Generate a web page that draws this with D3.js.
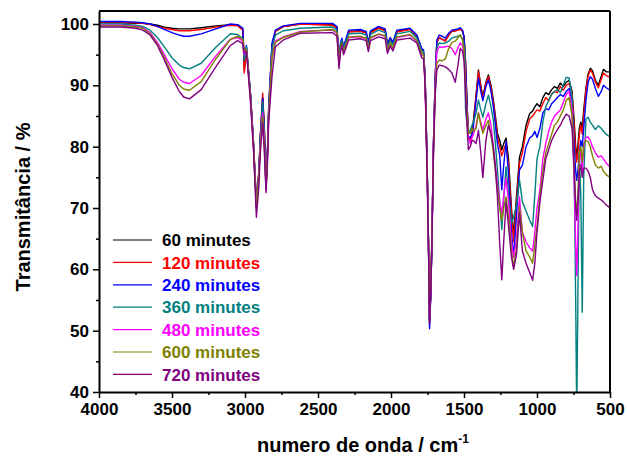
<!DOCTYPE html>
<html><head><meta charset="utf-8">
<script src="https://cdn.jsdelivr.net/npm/d3@7"></script>
<style>body{margin:0;background:#fff}svg{display:block}</style>
</head><body>
<svg id="c" width="627" height="459"></svg>
<script>
// ---------- DATA ----------
const wavenumbers = [
  4000,3850,3750,3700,3650,3600,3550,3500,3450,3420,3380,3300,3200,3100,3050,
  3015,3005,2990,2963,2942,2922,2905,2895,2879,2868,2856,2845,2838,2815,2792,2737,2620,
  2400,2370,2356,2345,2336,2325,2290,2210,2170,2155,2140,2085,2040,2024,2005,1987,1960,1870,1823,1790,
  1777,1766,1759,1750,1743,1736,1728,1720,1709,1697,1686,1670,1650,1628,1605,1583,1560,1540,1526,1510,1500,1494,1490,1482,1470,
  1457,1445,1435,1417,1401,1385,1371,1350,1333,1315,1299,1285,1271,1255,1241,1228,1212,1195,1175,1160,1140,1120,1100,1075,1050,1030,1015,
  1000,980,960,940,920,900,880,860,840,820,800,780,760,745,735,728,720,710,700,690,680,665,650,635,620,600,580,560,545,525,500
];
const s60 = [
  100.2,100.2,100.1,100.1,100.0,99.8,99.5,99.3,99.2,99.2,99.2,99.4,99.7,99.9,99.9,
  99.2,92.5,96.0,88.7,80.6,71.0,76.0,81.6,88.0,83.0,73.5,80.0,86.0,96.5,98.8,99.6,100.0,
  99.9,99.4,93.8,96.8,97.5,96.0,98.8,98.9,98.6,96.8,98.7,99.4,99.0,96.7,97.6,96.9,98.8,99.2,98.1,95.9,
  95.3,91.0,84.0,74.0,64.0,51.5,56.0,64.5,80.6,91.4,97.0,97.8,97.5,97.3,98.2,98.8,98.9,99.0,99.2,98.8,97.9,95.8,94.0,88.7,81.5,
  81.0,82.0,84.3,88.5,92.5,90.0,88.1,90.5,91.7,90.0,87.6,85.0,82.2,81.0,79.5,80.5,81.4,78.0,70.0,65.5,72.0,78.3,80.0,83.5,85.4,85.8,86.5,
  87.0,86.5,88.0,88.8,88.5,89.3,89.8,89.5,90.4,89.8,90.5,90.8,89.0,84.0,80.0,78.5,80.0,83.0,84.0,83.0,86.0,89.5,91.8,92.8,92.4,90.8,90.0,91.5,92.6,92.2,92.2
];
const s120 = [
  100.3,100.3,100.2,100.1,99.9,99.6,99.3,99.1,98.9,98.9,98.9,99.1,99.5,99.8,99.7,
  99.0,92.0,95.8,88.7,80.6,71.0,76.0,81.8,88.7,83.5,73.5,80.0,86.0,96.4,98.8,99.6,100.0,
  99.8,99.3,93.5,96.6,97.4,95.8,98.7,98.8,98.5,96.6,98.6,99.3,98.9,96.5,97.5,96.7,98.7,99.1,98.0,95.8,
  95.2,90.8,83.8,73.8,63.8,51.0,55.8,64.3,80.5,91.3,97.0,97.8,97.5,97.2,98.2,98.8,98.9,99.0,99.2,98.8,97.9,95.8,94.0,88.7,81.5,
  81.0,82.0,84.0,88.3,92.3,89.7,87.8,90.3,91.4,89.6,87.2,84.5,81.5,80.0,78.5,79.5,80.5,77.0,69.0,64.5,71.0,77.3,79.0,82.5,84.5,85.0,85.5,
  86.0,85.8,87.0,88.0,87.5,88.6,89.0,88.8,89.8,89.2,90.0,90.3,88.5,83.0,79.0,77.5,79.0,82.0,83.5,82.0,85.0,89.0,91.5,92.5,92.0,90.5,89.6,91.0,92.0,91.6,91.3
];
const s240 = [
  100.4,100.4,100.3,100.2,100.0,99.6,99.1,98.6,98.2,98.0,98.0,98.4,99.2,100.0,99.9,
  99.3,94.1,96.5,88.8,80.6,70.5,75.5,81.5,87.9,83.0,73.4,80.0,86.3,96.9,99.0,99.7,100.1,
  100.1,99.6,94.1,97.0,97.7,96.3,99.0,99.1,98.8,96.9,98.9,99.6,99.2,96.8,97.8,97.0,99.0,99.3,98.2,96.0,
  95.8,91.2,83.8,73.5,63.5,50.3,55.5,64.0,80.6,91.5,97.4,98.2,98.0,97.7,98.5,99.0,99.1,99.2,99.4,99.0,97.9,95.3,93.5,88.7,81.6,
  81.5,82.0,83.5,87.5,91.2,89.0,87.5,89.8,90.9,89.0,86.5,83.5,80.5,78.5,73.0,77.0,80.8,75.5,66.0,62.0,69.0,76.2,77.0,80.0,81.4,81.8,82.5,
  81.5,83.0,85.5,86.2,86.0,87.0,87.5,88.0,88.5,88.2,89.0,89.5,87.5,80.0,76.0,74.5,76.0,79.0,81.0,80.0,83.0,87.5,90.5,91.4,91.0,89.5,88.2,89.0,90.0,89.6,89.2
];
const s360 = [
  100.0,100.0,99.8,99.6,99.0,97.8,96.2,94.5,93.3,92.9,92.7,93.6,96.2,98.4,98.3,
  97.6,94.1,96.3,88.5,80.5,70.5,75.5,81.2,87.3,82.5,73.4,79.8,85.8,96.0,98.2,98.9,99.3,
  99.5,99.0,94.5,96.7,97.3,96.0,98.4,98.5,98.2,96.4,98.3,99.0,98.6,96.3,97.3,96.6,98.4,98.8,97.7,95.6,
  95.5,90.8,83.5,73.5,64.0,51.5,56.0,64.5,80.0,90.5,96.2,96.9,96.8,96.9,97.2,97.7,97.9,98.0,98.2,97.5,96.5,95.5,86.3,84.5,82.2,
  82.7,83.5,84.0,85.5,87.6,86.0,84.8,87.0,88.4,86.5,84.3,80.5,76.2,71.0,66.5,71.5,76.7,72.0,67.5,68.5,70.5,74.6,71.0,69.5,68.0,67.0,72.0,
  78.0,80.0,84.0,86.5,87.5,88.5,89.0,89.3,88.8,90.0,91.3,91.2,88.0,75.0,55.0,36.0,55.0,79.0,72.0,53.0,75.0,84.5,84.8,84.0,83.5,82.8,83.4,83.0,82.5,82.0,81.6
];
const s480 = [
  99.8,99.8,99.6,99.4,98.6,97.0,94.9,92.7,91.0,90.5,90.3,91.6,94.8,97.5,97.8,
  97.2,95.0,95.8,88.0,80.0,70.0,75.0,80.5,85.5,81.0,73.0,79.0,85.0,94.5,97.2,97.9,98.8,
  99.0,98.5,93.5,96.0,96.8,95.3,97.8,97.9,97.6,95.9,97.7,98.3,98.0,95.7,96.8,96.0,97.8,98.2,97.2,95.0,
  94.8,90.3,83.0,73.0,64.0,52.0,56.5,64.8,80.0,90.0,95.5,96.3,96.2,96.3,96.4,96.0,95.0,96.2,96.9,96.5,95.0,92.5,90.5,86.0,81.5,
  80.5,81.5,82.0,83.5,85.5,84.0,82.7,84.5,85.5,83.5,80.0,77.0,74.0,71.0,69.0,72.0,74.9,71.0,64.5,62.0,65.0,71.8,66.0,64.5,63.5,63.0,66.0,
  70.0,73.0,78.0,80.5,82.5,84.0,85.0,85.5,86.0,87.2,88.5,89.0,86.0,74.0,64.0,59.0,66.0,78.0,79.0,76.0,80.0,81.5,81.6,81.0,80.0,79.0,78.3,78.5,78.0,77.3,76.7
];
const s600 = [
  99.7,99.7,99.5,99.3,98.4,96.7,94.4,91.9,90.0,89.4,89.2,90.6,94.3,97.5,98.0,
  97.5,95.8,95.9,88.2,80.2,70.0,75.0,80.2,84.8,80.5,73.0,79.0,85.0,94.5,97.0,97.8,98.7,
  99.1,98.6,93.8,96.2,96.9,95.5,97.9,98.0,97.7,96.0,97.8,98.4,98.1,95.8,96.9,96.1,97.9,98.3,97.3,95.1,
  94.9,90.4,83.0,73.0,64.0,52.5,57.0,65.0,79.5,89.0,93.6,94.1,94.0,94.3,96.0,97.0,97.2,97.8,98.2,97.4,95.8,93.0,90.8,86.5,82.2,
  82.2,83.0,82.5,83.0,85.5,83.5,82.2,83.5,84.3,82.0,79.0,76.0,73.0,70.0,68.0,70.0,71.8,68.5,63.0,60.5,63.5,70.2,66.0,63.0,62.0,61.0,64.0,
  67.0,72.0,76.0,79.0,80.5,82.0,83.5,84.0,85.0,86.0,87.5,88.0,85.0,76.0,71.0,69.0,72.0,79.0,80.0,77.5,80.5,81.0,80.8,80.0,78.5,77.0,76.5,76.8,76.0,75.4,75.0
];
const s720 = [
  99.5,99.5,99.3,99.0,98.2,96.5,94.0,91.3,89.0,88.1,87.8,89.3,93.0,96.5,97.3,
  96.8,95.3,95.4,87.5,79.5,68.5,73.5,79.0,83.9,79.5,72.5,78.0,84.0,91.4,96.3,97.4,98.5,
  98.6,98.0,92.7,95.6,96.6,95.0,97.4,97.6,97.3,95.5,97.3,97.9,97.6,95.2,96.4,95.6,97.4,97.7,96.9,94.5,
  94.3,89.8,82.5,72.5,63.5,51.2,56.0,64.0,79.0,88.5,92.5,93.3,93.2,93.0,92.6,92.0,90.5,93.5,96.0,95.6,94.0,91.0,88.5,84.5,79.5,
  80.0,81.0,81.0,80.5,82.7,79.0,75.0,81.0,83.5,82.0,80.0,76.5,71.8,64.0,58.3,64.5,71.0,67.0,62.0,60.0,62.5,69.2,63.0,61.0,59.5,58.2,61.0,
  66.0,71.0,74.5,78.0,79.5,81.0,82.0,82.8,83.5,84.5,85.3,85.0,83.0,76.0,70.0,68.0,71.0,76.0,77.0,75.0,76.5,76.5,76.0,75.0,73.0,72.0,71.6,71.3,71.0,70.5,70.0
];
const seriesLabels = ["60 minutes","120 minutes","240 minutes","360 minutes","480 minutes","600 minutes","720 minutes"];
const seriesColors = ["#000000","#ff0000","#0000ff","#008080","#ff00ff","#808000","#800080"];
const seriesValues = [s60,s120,s240,s360,s480,s600,s720];
const xTickValues = [4000,3500,3000,2500,2000,1500,1000,500];
const xMinorTicks = [3750,3250,2750,2250,1750,1250,750];
const yTickValues = [40,50,60,70,80,90,100];
const yMinorTicks = [45,55,65,75,85,95];

seriesValues.forEach((s,i)=>{ if(s.length!==wavenumbers.length) console.error("length mismatch", i, s.length, wavenumbers.length); });

// ---------- CHART ----------
const L=99, R=610, T=11, B=392;
const FONT = "'Liberation Sans', Arial, Helvetica, sans-serif";
const svg = d3.select("#c");
const x = d3.scaleLinear().domain([4000,500]).range([L,R]);
const y = d3.scaleLinear().domain([40,102.12]).range([B,T]);

svg.append("defs").append("clipPath").attr("id","clip")
  .append("rect").attr("x",L).attr("y",T).attr("width",R-L).attr("height",B-T);

const line = d3.line().x(d=>x(d[0])).y(d=>y(d[1]));
const gLines = svg.append("g").attr("clip-path","url(#clip)");
seriesValues.forEach((vals,i)=>{
  const pts = wavenumbers.map((w,j)=>[w, vals[j]]);
  gLines.append("path").datum(pts)
    .attr("d", line).attr("fill","none")
    .attr("stroke", seriesColors[i]).attr("stroke-width",1.4)
    .attr("stroke-linejoin","round");
});

// frame top/right
svg.append("line").attr("x1",L).attr("x2",R).attr("y1",T).attr("y2",T).attr("stroke","#000").attr("stroke-width",2);
svg.append("line").attr("x1",R).attr("x2",R).attr("y1",T).attr("y2",B).attr("stroke","#000").attr("stroke-width",2);

// x axis
svg.append("g").attr("transform",`translate(0,${B})`)
  .call(d3.axisBottom(x).tickValues(xTickValues).tickSize(6).tickSizeOuter(0).tickPadding(5).tickFormat(d3.format("d")));
svg.append("g").attr("transform",`translate(0,${B})`)
  .call(d3.axisBottom(x).tickValues(xMinorTicks).tickSize(3).tickSizeOuter(0).tickFormat(""))
  .call(g=>g.select(".domain").remove());
// y axis
svg.append("g").attr("transform",`translate(${L},0)`)
  .call(d3.axisLeft(y).tickValues(yTickValues).tickSize(6).tickSizeOuter(0).tickPadding(4).tickFormat(d3.format("d")));
svg.append("g").attr("transform",`translate(${L},0)`)
  .call(d3.axisLeft(y).tickValues(yMinorTicks).tickSize(3).tickSizeOuter(0).tickFormat(""))
  .call(g=>g.select(".domain").remove());

svg.selectAll(".domain").attr("stroke","#000").attr("stroke-width",2);
svg.selectAll(".tick line").attr("stroke","#000").attr("stroke-width",1.5);
svg.selectAll(".tick text").attr("font-family",FONT).attr("font-weight","bold")
  .attr("font-size","17px").attr("fill","#000");

// axis titles
const xt = svg.append("text").attr("x",363).attr("y",452).attr("text-anchor","middle")
  .attr("font-family",FONT).attr("font-weight","bold").attr("font-size","20px").attr("fill","#000");
xt.append("tspan").text("numero de onda / cm");
xt.append("tspan").attr("dy",-9).attr("font-size","12px").text("-1");

svg.append("text").attr("transform","translate(30,207) rotate(-90)").attr("text-anchor","middle")
  .attr("font-family",FONT).attr("font-weight","bold").attr("font-size","20px").attr("fill","#000")
  .text("Transmitância / %");

// legend
const lg = svg.append("g");
seriesLabels.forEach((lab,i)=>{
  const yy = 240 + i*22.4;
  lg.append("line").attr("x1",113).attr("x2",152).attr("y1",yy).attr("y2",yy)
    .attr("stroke",seriesColors[i]).attr("stroke-width",1.2);
  lg.append("text").attr("x",162).attr("y",yy).attr("dy","0.36em")
    .attr("font-family",FONT).attr("font-weight","bold").attr("font-size","17px")
    .attr("fill",seriesColors[i]).text(lab);
});
</script>
</body></html>
